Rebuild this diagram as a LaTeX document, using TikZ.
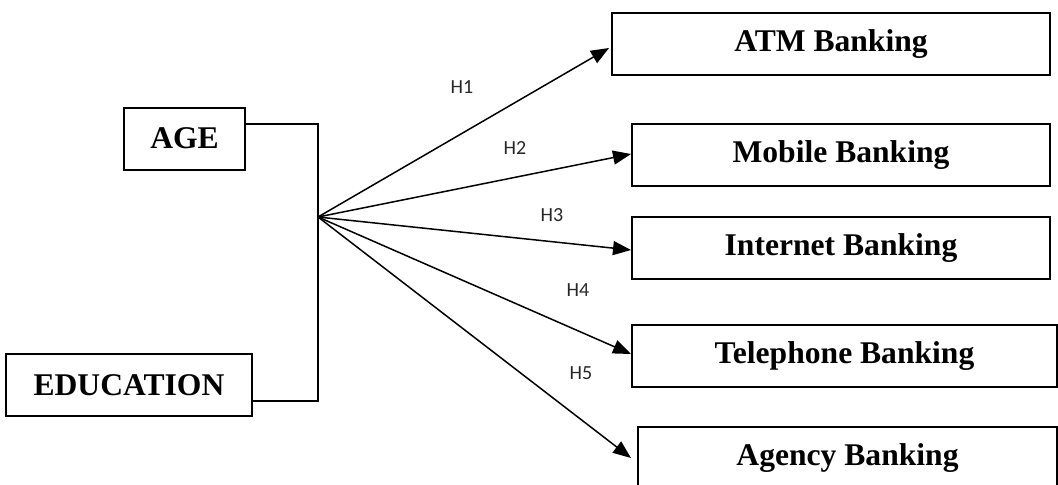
\documentclass[tikz,border=0pt]{standalone}
\usepackage{fontspec}
\setmainfont{Liberation Serif}
\newfontfamily\hypfont{Carlito}
\usetikzlibrary{arrows.meta,positioning}

\begin{document}
\begin{tikzpicture}[x=0.5pt,y=0.5pt,
        varbox/.style={draw,line width=1pt,inner sep=0pt,minimum height=31pt,font=\fontsize{15.8}{18}\selectfont\bfseries},
        hyp/.style={font=\hypfont\fontsize{10}{12}\selectfont,text=black!85},
        link/.style={line width=0.75pt,-{Triangle[length=9pt,width=7pt]}}]
        \useasboundingbox (0,0) rectangle (1058,484);
        \clip (0,0) rectangle (1058,484);

        % predictors
        \node[varbox,minimum width=60.5pt] (age) at (184.5,345.5) {AGE};
        \node[varbox,minimum width=123pt] (edu) at (129,99) {EDUCATION};

        % channels
        \node[varbox,minimum width=219pt] (atm) at (831,440) {ATM Banking};
        \node[varbox,minimum width=209pt] (mob) at (841,329) {Mobile Banking};
        \node[varbox,minimum width=209pt] (int) at (841,236) {Internet Banking};
        \node[varbox,minimum width=212.5pt] (tel) at (844.5,128) {Telephone Banking};
        \node[varbox,minimum width=209.5pt] (agy) at (847.5,26) {Agency Banking};

        % joining bracket
        \coordinate (top) at (318,360);
        \coordinate (bot) at (318,83);
        \coordinate (hub) at (318,267);
        \draw[line width=0.75pt] (age.east |- top) -- (top) -- (bot) -- (edu.east |- bot);

        % hypotheses
        \draw[link] (hub) -- ([xshift=-1pt,yshift=-2pt]atm.west);
        \draw[link] (hub) -- ([yshift=0.5pt]mob.west);
        \draw[link] (hub) -- ([yshift=-1pt]int.west);
        \draw[link] (hub) -- ([yshift=1pt]tel.west);
        \draw[link] (hub) -- ([xshift=-3pt]agy.west);

        \node[hyp] (h1) at (462,397) {H1};
        \node[hyp] (h2) at (515,336) {H2};
        \node[hyp] (h3) at (552,269) {H3};
        \node[hyp] (h4) at (578,194) {H4};
        \node[hyp] (h5) at (581,111) {H5};
    \end{tikzpicture}
\end{document}
